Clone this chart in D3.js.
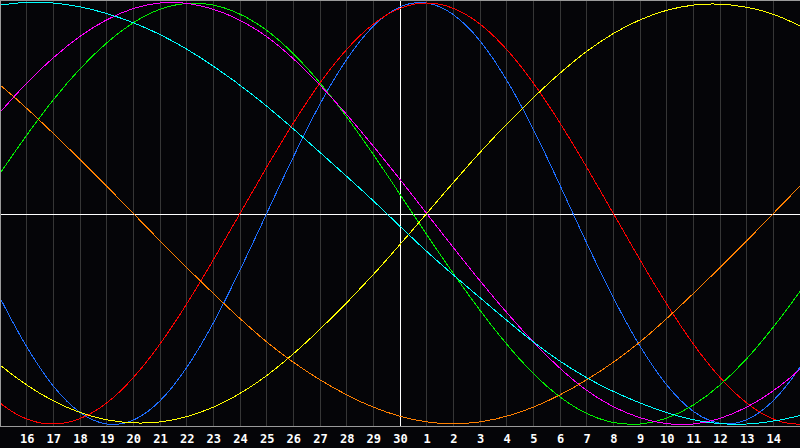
<!DOCTYPE html>
<html><head><meta charset="utf-8">
<script src="https://cdn.jsdelivr.net/npm/d3@7"></script>
<style>html,body{margin:0;padding:0;background:#050508;overflow:hidden} svg{display:block}</style>
</head><body>
<script>
// day index (0 = left edge, 30 = right edge), sampled every 2 days
const days = [-2,0,2,4,6,8,10,12,14,16,18,20,22,24,26,28,30,32];
const tickLabels = ["16","17","18","19","20","21","22","23","24","25","26","27","28","29","30",
                    "1","2","3","4","5","6","7","8","9","10","11","12","13","14"];
// values in percent (-100..100)
const physical     = [14,-40,-82,-100,-89,-52,0,52,89,100,82,40,-14,-63,-94,-98,-73,-27];   // 23 days
const emotional    = [-62,-90,-100,-90,-62,-22,22,62,90,100,90,62,22,-22,-62,-90,-100,-90]; // 28 days
const intellectual = [-19,19,54,81,97,99,87,62,28,-10,-46,-76,-95,-100,-91,-69,-37,0];      // 33 days
const intuitive    = [16,48,74,92,100,97,84,61,32,0,-32,-61,-84,-97,-100,-92,-74,-48];      // 38 days
const aesthetic    = [-49,-72,-89,-98,-99,-92,-77,-55,-29,0,29,55,77,92,99,98,89,72];       // 43 days
const awareness    = [79,61,38,13,-13,-38,-61,-79,-92,-99,-99,-92,-79,-61,-38,-13,13,38];   // 48 days
const spiritual    = [93,99,100,95,85,70,51,29,6,-18,-40,-61,-78,-90,-98,-100,-96,-88];    // 53 days

const seriesNames  = ["physical","emotional","intellectual","intuitive","aesthetic","awareness","spiritual"];
const seriesValues = [physical, emotional, intellectual, intuitive, aesthetic, awareness, spiritual];
const seriesColors = ["#1e6eff","#ff0000","#00f000","#ff00ff","#ffff00","#ff8000","#00ffff"];

const W = 800, H = 448, plotBottom = 426;
const x = d3.scaleLinear().domain([0, 30]).range([0, 800]);
const y = d3.scaleLinear().domain([-100, 100]).range([424, 3]);

const svg = d3.select("body").append("svg").attr("width", W).attr("height", H);
svg.append("rect").attr("width", W).attr("height", H).attr("fill", "#050508");

svg.append("defs").append("clipPath").attr("id", "plot")
  .append("rect").attr("x", 1).attr("y", 1).attr("width", 799).attr("height", plotBottom - 1);

// vertical day grid
const gridIdx = d3.range(1, 30);
svg.append("g").selectAll("line").data(gridIdx).join("line")
  .attr("x1", d => Math.floor(x(d)) + 0.5).attr("x2", d => Math.floor(x(d)) + 0.5)
  .attr("y1", 0).attr("y2", plotBottom)
  .attr("stroke", d => d === 15 ? "#ffffff" : "#363636")
  .attr("stroke-width", 1).attr("shape-rendering", "crispEdges");

// horizontal zero line
svg.append("line").attr("x1", 0).attr("x2", W)
  .attr("y1", Math.round(y(0)) + 0.5).attr("y2", Math.round(y(0)) + 0.5)
  .attr("stroke", "#ffffff").attr("shape-rendering", "crispEdges");

// curves
const line = d3.line().x((d, i) => x(days[i])).y(d => y(d)).curve(d3.curveNatural);
svg.append("g").attr("clip-path", "url(#plot)")
  .selectAll("path").data(seriesValues).join("path")
  .attr("d", d => line(d))
  .attr("fill", "none")
  .attr("stroke", (d, i) => seriesColors[i])
  .attr("stroke-width", 1)
  .attr("shape-rendering", "crispEdges");

// frame
const frame = svg.append("g").attr("stroke", "#9a9a9a").attr("shape-rendering", "crispEdges");
frame.append("line").attr("x1", 0).attr("x2", W).attr("y1", 0.5).attr("y2", 0.5);
frame.append("line").attr("x1", 0.5).attr("x2", 0.5).attr("y1", 0).attr("y2", plotBottom + 1);
frame.append("line").attr("x1", 0).attr("x2", W).attr("y1", plotBottom + 0.5).attr("y2", plotBottom + 0.5);

// day labels
const axis = d3.axisBottom(x).tickValues(gridIdx).tickFormat(d => tickLabels[d - 1]).tickSize(0).tickPadding(8);
const ax = svg.append("g").attr("transform", `translate(0,${plotBottom})`).call(axis);
ax.select(".domain").remove();
ax.selectAll("text").attr("fill", "#ffffff")
  .style("font-family", "'DejaVu Sans Mono', monospace")
  .style("font-weight", "bold").style("font-size", "12px");
</script>
</body></html>
